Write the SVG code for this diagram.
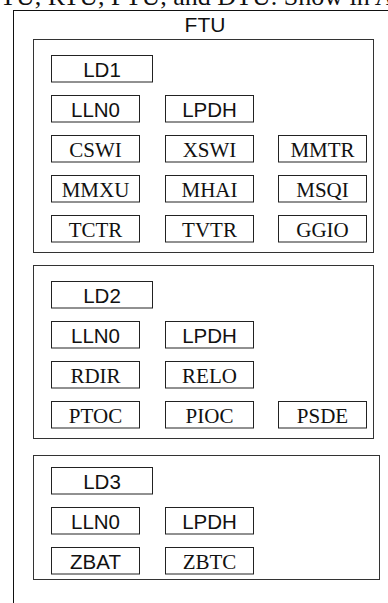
<svg xmlns="http://www.w3.org/2000/svg" width="388" height="603" viewBox="0 0 388 603">
<style>
.bg{fill:#fff}
.box{fill:#fff;stroke:#222;stroke-width:1}
.cont{fill:none;stroke:#333;stroke-width:1}
.outer{fill:none;stroke:#111;stroke-width:1}
.s{font-family:"Liberation Sans",Arial,sans-serif;font-size:20.5px;fill:#111;text-anchor:middle}
.r{font-family:"Liberation Serif","Times New Roman",serif;font-size:21px;fill:#111;text-anchor:middle}
.cap{font-family:"Liberation Serif","Times New Roman",serif;font-size:26px;fill:#111}
</style>
<rect class="bg" x="0" y="0" width="388" height="603"/>
<text class="cap" x="0" y="5">TU, RTU, FTU, and DTU. Show in A</text>
<g id="FTU">
<rect class="outer" x="13.5" y="10.5" width="400" height="600"/>
<text class="s" x="205" y="32" style="font-size:21px">FTU</text>
</g>
<g id="LD1-container"><rect class="cont" x="33.5" y="39.5" width="340" height="213"/></g>
<g id="LD2-container"><rect class="cont" x="33.5" y="265.5" width="340" height="173"/></g>
<g id="LD3-container"><rect class="cont" x="33.5" y="455.5" width="346" height="124"/></g>

<g id="LD1"><rect class="box" x="51.5" y="55.5" width="101" height="26.5"/><text class="s" x="102" y="76.5">LD1</text></g>
<g id="LD1-LLN0"><rect class="box" x="51.5" y="95.5" width="88" height="26.5"/><text class="s" x="95.5" y="116.5">LLN0</text></g>
<g id="LD1-LPDH"><rect class="box" x="165.5" y="95.5" width="88" height="26.5"/><text class="s" x="209.5" y="116.5">LPDH</text></g>
<g id="LD1-CSWI"><rect class="box" x="51.5" y="135.5" width="88" height="26.5"/><text class="r" x="95.5" y="157">CSWI</text></g>
<g id="LD1-XSWI"><rect class="box" x="165.5" y="135.5" width="88" height="26.5"/><text class="r" x="209.5" y="157">XSWI</text></g>
<g id="LD1-MMTR"><rect class="box" x="278.5" y="135.5" width="88" height="26.5"/><text class="r" x="322.5" y="157">MMTR</text></g>
<g id="LD1-MMXU"><rect class="box" x="51.5" y="175.5" width="88" height="26.5"/><text class="r" x="95.5" y="197">MMXU</text></g>
<g id="LD1-MHAI"><rect class="box" x="165.5" y="175.5" width="88" height="26.5"/><text class="r" x="209.5" y="197">MHAI</text></g>
<g id="LD1-MSQI"><rect class="box" x="278.5" y="175.5" width="88" height="26.5"/><text class="r" x="322.5" y="197">MSQI</text></g>
<g id="LD1-TCTR"><rect class="box" x="51.5" y="215.5" width="88" height="26.5"/><text class="r" x="95.5" y="237">TCTR</text></g>
<g id="LD1-TVTR"><rect class="box" x="165.5" y="215.5" width="88" height="26.5"/><text class="r" x="209.5" y="237">TVTR</text></g>
<g id="LD1-GGIO"><rect class="box" x="278.5" y="215.5" width="88" height="26.5"/><text class="r" x="322.5" y="237">GGIO</text></g>

<g id="LD2"><rect class="box" x="51.5" y="281.5" width="101" height="26.5"/><text class="s" x="102" y="302.5">LD2</text></g>
<g id="LD2-LLN0"><rect class="box" x="51.5" y="321.5" width="88" height="26.5"/><text class="s" x="95.5" y="342.5">LLN0</text></g>
<g id="LD2-LPDH"><rect class="box" x="165.5" y="321.5" width="88" height="26.5"/><text class="s" x="209.5" y="342.5">LPDH</text></g>
<g id="LD2-RDIR"><rect class="box" x="51.5" y="361.5" width="88" height="26.5"/><text class="r" x="95.5" y="383">RDIR</text></g>
<g id="LD2-RELO"><rect class="box" x="165.5" y="361.5" width="88" height="26.5"/><text class="r" x="209.5" y="383">RELO</text></g>
<g id="LD2-PTOC"><rect class="box" x="51.5" y="401.5" width="88" height="26.5"/><text class="r" x="95.5" y="423">PTOC</text></g>
<g id="LD2-PIOC"><rect class="box" x="165.5" y="401.5" width="88" height="26.5"/><text class="r" x="209.5" y="423">PIOC</text></g>
<g id="LD2-PSDE"><rect class="box" x="278.5" y="401.5" width="88" height="26.5"/><text class="r" x="322.5" y="423">PSDE</text></g>

<g id="LD3"><rect class="box" x="51.5" y="467.5" width="101" height="26.5"/><text class="s" x="102" y="488.5">LD3</text></g>
<g id="LD3-LLN0"><rect class="box" x="51.5" y="507.5" width="88" height="26.5"/><text class="s" x="95.5" y="528.5">LLN0</text></g>
<g id="LD3-LPDH"><rect class="box" x="165.5" y="507.5" width="88" height="26.5"/><text class="s" x="209.5" y="528.5">LPDH</text></g>
<g id="LD3-ZBAT"><rect class="box" x="51.5" y="547.5" width="88" height="26.5"/><text class="s" x="95.5" y="568.5">ZBAT</text></g>
<g id="LD3-ZBTC"><rect class="box" x="165.5" y="547.5" width="88" height="26.5"/><text class="r" x="209.5" y="569">ZBTC</text></g>

<g id="connectors"></g>
</svg>
